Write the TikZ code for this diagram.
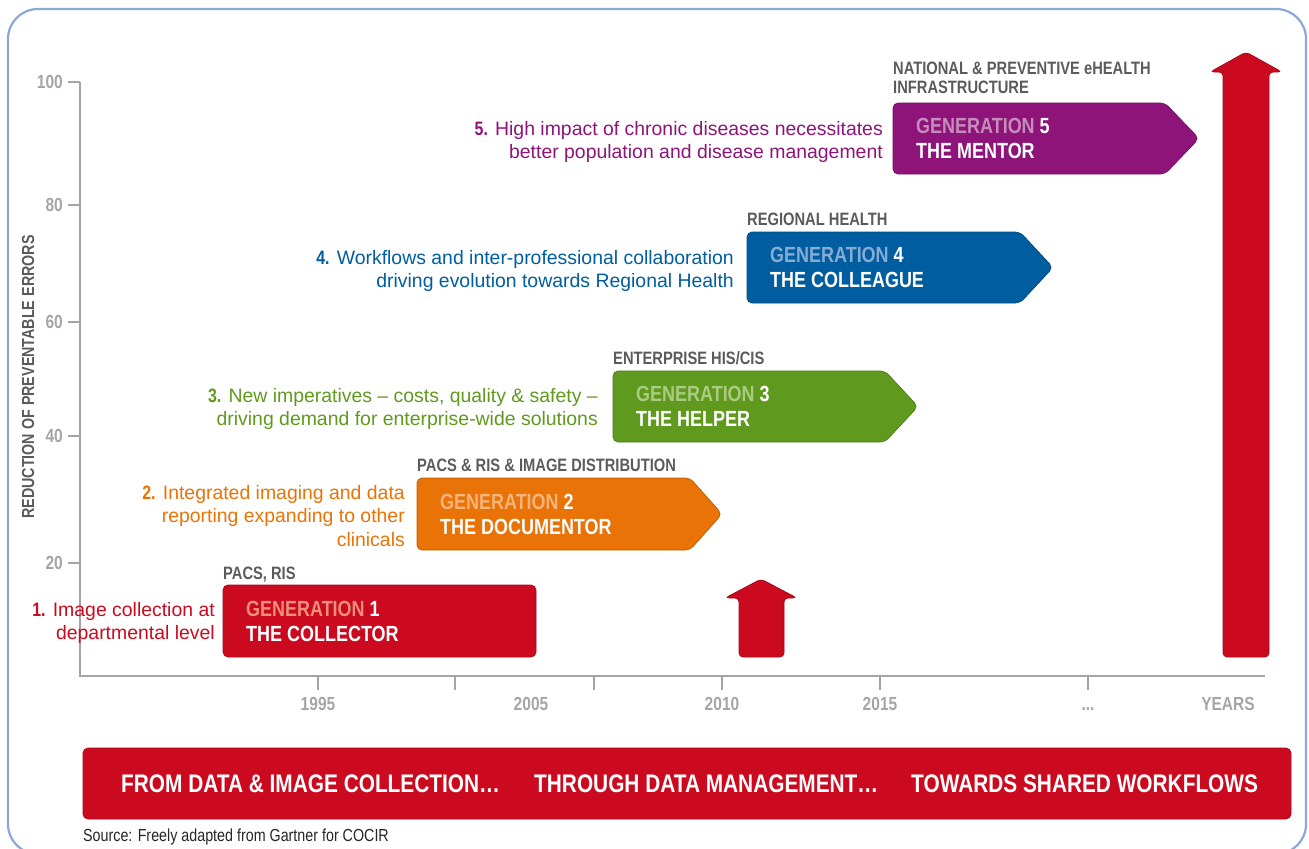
\documentclass[tikz,border=0pt]{standalone}
\usepackage{fontspec}
\setmainfont{Liberation Sans}
\newfontfamily\cnd{Liberation Sans}[FakeStretch=0.82]
\definecolor{cred}{HTML}{CC0A1F}
\definecolor{corange}{HTML}{E97306}
\definecolor{cgreen}{HTML}{5F9A1E}
\definecolor{cblue}{HTML}{005D9F}
\definecolor{cpurple}{HTML}{8E1479}
\definecolor{lred}{HTML}{EC9079}
\definecolor{lorange}{HTML}{F6B37A}
\definecolor{lgreen}{HTML}{A9CC80}
\definecolor{lblue}{HTML}{86ACD4}
\definecolor{lpurple}{HTML}{C68DBC}
\definecolor{labelgray}{HTML}{5B5B5B}
\definecolor{axisgray}{HTML}{A5A5A5}
\definecolor{framecol}{HTML}{8CA8D6}
\tikzset{
  lefttxt/.style={anchor=east, align=right, inner sep=0pt, font=\fontsize{19.5}{24}\selectfont},
  gentxt/.style={anchor=west, align=left, inner sep=0pt, font=\cnd\bfseries\fontsize{22}{25}\selectfont, text=white},
  techlbl/.style={inner sep=0pt, font=\cnd\bfseries\fontsize{18}{19}\selectfont, text=labelgray},
  axislbl/.style={inner sep=0pt, font=\cnd\bfseries\fontsize{17.5}{19}\selectfont, text=labelgray},
  ticklbl/.style={inner sep=0pt, font=\cnd\bfseries\fontsize{19}{21}\selectfont, text=axisgray},
  genbox/.style={fill=#1, draw=#1!80!black, line width=0.7pt, rounded corners=5pt},
  axisline/.style={draw=axisgray, line width=2.4pt},
  bannertxt/.style={anchor=base west, inner sep=0pt, font=\cnd\bfseries\fontsize{25.5}{28}\selectfont, text=white}
}
\begin{document}
\begin{tikzpicture}[x=1bp,y=-1bp]
\useasboundingbox (0,0) rectangle (1309,848);
% frame
\draw[framecol, line width=2.2pt, rounded corners=30pt] (8,9) rectangle (1306,854);

% axes
\coordinate (ytop) at (80,82);
\coordinate (orig) at (80,676);
\coordinate (xend) at (1265,676);
\draw[axisline] (ytop) -- (orig) -- (xend);
\foreach \v/\y in {100/82,80/205,60/322,40/436,20/563}{
  \draw[axisline] (68,\y) -- (80,\y);
  \node[ticklbl, anchor=east] (yl\v) at (63,\y) {\v};
}
\foreach \x in {318,455,594,722,880,1088}{
  \draw[axisline] (\x,676) -- (\x,690);
}
\node[ticklbl, anchor=base] (x1995) at (318,710) {1995};
\node[ticklbl, anchor=base] (x2005) at (531,710) {2005};
\node[ticklbl, anchor=base] (x2010) at (722,710) {2010};
\node[ticklbl, anchor=base] (x2015) at (880,710) {2015};
\node[ticklbl, anchor=base] (xdots) at (1088,710) {...};
\node[ticklbl, anchor=base] (xyears) at (1228,710) {YEARS};
\node[axislbl, rotate=90] (ylabel) at (28,377) {REDUCTION OF PREVENTABLE ERRORS};

% big arrows
\draw[genbox=cred, rounded corners=4pt] (1223,657) -- (1223,72) -- (1210,72) -- (1246,52) -- (1282,72) -- (1269,72) -- (1269,657) -- cycle;
\draw[genbox=cred, rounded corners=4pt] (739,657) -- (739,598) -- (725,598) -- (761,579) -- (797,598) -- (784,598) -- (784,657) -- cycle;

% generation 1
\draw[genbox=cred] (223,585) rectangle (536,657);
\node[techlbl, anchor=base west] (t1) at (223,579) {PACS, RIS};
\node[gentxt] (g1) at (246,621) {\textcolor{lred}{GENERATION} 1\\THE COLLECTOR};
\node[lefttxt, text=cred] (d1) at (215,623) {{\cnd\bfseries 1.} Image collection at\\departmental level};

% generation 2
\draw[genbox=corange] (417,478) -- (690,478) -- (722,514) -- (690,550) -- (417,550) -- cycle;
\node[techlbl, anchor=base west] (t2) at (417,471) {PACS \& RIS \& IMAGE DISTRIBUTION};
\node[gentxt] (g2) at (440,514) {\textcolor{lorange}{GENERATION} 2\\THE DOCUMENTOR};
\node[lefttxt, text=corange] (d2) at (405,516) {{\cnd\bfseries 2.} Integrated imaging and data\\reporting expanding to other\\clinicals};

% generation 3
\draw[genbox=cgreen] (613,371) -- (885,371) -- (918,406.5) -- (885,442) -- (613,442) -- cycle;
\node[techlbl, anchor=base west] (t3) at (613,364) {ENTERPRISE HIS/CIS};
\node[gentxt] (g3) at (636,406.5) {\textcolor{lgreen}{GENERATION} 3\\THE HELPER};
\node[lefttxt, text=cgreen] (d3) at (598,409) {{\cnd\bfseries 3.} New imperatives -- costs, quality \& safety --\\driving demand for enterprise-wide solutions};

% generation 4
\draw[genbox=cblue] (747,232) -- (1020,232) -- (1053,267.5) -- (1020,303) -- (747,303) -- cycle;
\node[techlbl, anchor=base west] (t4) at (747,225) {REGIONAL HEALTH};
\node[gentxt] (g4) at (770,267.5) {\textcolor{lblue}{GENERATION} 4\\THE COLLEAGUE};
\node[lefttxt, text=cblue] (d4) at (734,271) {{\cnd\bfseries 4.} Workflows and inter-professional collaboration\\driving evolution towards Regional Health};

% generation 5
\draw[genbox=cpurple] (893,103) -- (1165,103) -- (1199,138.5) -- (1165,174) -- (893,174) -- cycle;
\node[techlbl, anchor=south west, align=left] (t5) at (893,94) {NATIONAL \& PREVENTIVE eHEALTH\\INFRASTRUCTURE};
\node[gentxt] (g5) at (916,138.5) {\textcolor{lpurple}{GENERATION} 5\\THE MENTOR};
\node[lefttxt, text=cpurple] (d5) at (883,142) {{\cnd\bfseries 5.} High impact of chronic diseases necessitates\\better population and disease management};

% banner
\draw[genbox=cred] (83,748) rectangle (1291,819);
\node[bannertxt] (b1) at (121,792) {FROM DATA \& IMAGE COLLECTION…};
\node[bannertxt] (b2) at (534,792) {THROUGH DATA MANAGEMENT…};
\node[bannertxt] (b3) at (911,792) {TOWARDS SHARED WORKFLOWS};

% source
\node[anchor=base west, inner sep=0pt, font=\cnd\fontsize{17.5}{20}\selectfont, text=black!85] (src) at (83,841) {Source: Freely adapted from Gartner for COCIR};
\end{tikzpicture}
\end{document}
